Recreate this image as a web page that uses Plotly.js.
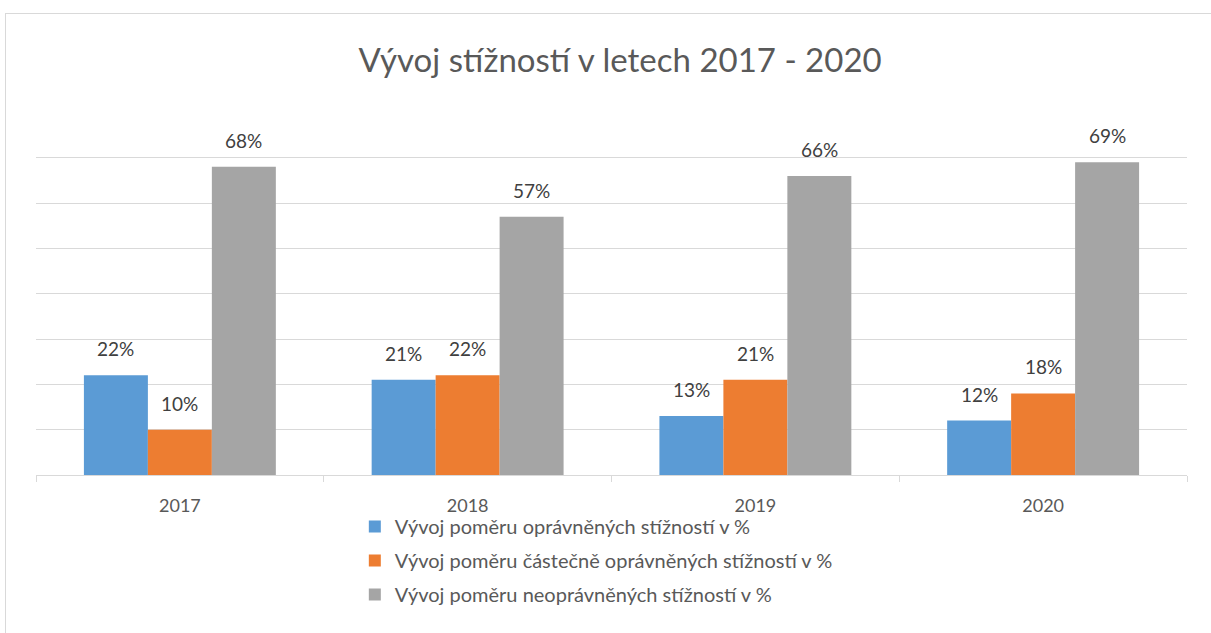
<!DOCTYPE html>
<html><head><meta charset="utf-8">
<script src="https://cdn.plot.ly/plotly-3.0.1.min.js"></script>
<style>
body{margin:0;padding:0;background:#fff;overflow:hidden}
#frame{position:absolute;left:5px;top:13px;width:1240px;height:660px;border:1.5px solid #d9d9d9;box-sizing:border-box}
#chart{position:absolute;left:0;top:0;width:1211px;height:633px}
</style></head>
<body><div id="frame"></div><div id="chart"></div>
<script>
const years = ['2017','2018','2019','2020'];
const opravnene = [0.22, 0.21, 0.13, 0.12];
const castecne = [0.10, 0.22, 0.21, 0.18];
const neopravnene = [0.68, 0.57, 0.66, 0.69];
const seriesNames = ['Vývoj poměru oprávněných stížností v %','Vývoj poměru částečně oprávněných stížností v %','Vývoj poměru neoprávněných stížností v %'];
const colors = ['#5b9bd5','#ed7d31','#a5a5a5'];
const series = [opravnene, castecne, neopravnene];
const FONT = 'Lato, "Open Sans", sans-serif';
const xIdx = years.map((_,i)=>i);
const traces = series.map((vals,i)=>({
  type:'bar', x:xIdx, y:vals, name:seriesNames[i], marker:{color:colors[i]},
  legendgroup:'g'+i, hoverinfo:'none'
}));
const annotations = [];
series.forEach((vals,i)=>{
  vals.forEach((v,j)=>{
    annotations.push({x:xIdx[j], y:v, xref:'x', yref:'y', text:Math.round(v*100)+'%',
      showarrow:false, yanchor:'bottom', xshift:(i-1)*64, yshift:13,
      font:{family:FONT,size:19,color:'#404040'}});
  });
});
const boundaries = [-0.5].concat(xIdx.map(i=>i+0.5));
const layout = {
  width:1211, height:633,
  margin:{l:36,r:24,t:112,b:158},
  paper_bgcolor:'rgba(0,0,0,0)', plot_bgcolor:'rgba(0,0,0,0)',
  title:{text:'Vývoj stížností v letech 2017 - 2020', x:0.512, xanchor:'center', y:0.905, yanchor:'middle',
    font:{family:FONT,size:33,color:'#595959'}},
  barmode:'group', bargap:0.333, bargroupgap:0,
  showlegend:true,
  legend:{orientation:'v', x:0.277, xanchor:'left', y:-0.088, yanchor:'top', traceorder:'grouped', tracegroupgap:5,
    itemwidth:30, font:{family:FONT,size:20,color:'#595959'}, bgcolor:'rgba(0,0,0,0)'},
  xaxis:{range:[-0.5,3.5], showline:true, linecolor:'#d9d9d9', linewidth:1,
    tickmode:'array', tickvals:xIdx, ticktext:years, ticks:'', showgrid:false, zeroline:false,
    ticklabelstandoff:14, tickfont:{family:FONT,size:18,color:'#595959'},
    minor:{tickmode:'array', tickvals:boundaries, ticks:'outside', ticklen:6, tickcolor:'#d9d9d9', showgrid:false}},
  yaxis:{range:[0,0.801], dtick:0.1, showticklabels:false, gridcolor:'#d9d9d9', gridwidth:1, zeroline:false, showline:false, ticks:''},
  annotations:annotations
};
Plotly.newPlot('chart', traces, layout, {displayModeBar:false, staticPlot:true});
</script></body></html>
